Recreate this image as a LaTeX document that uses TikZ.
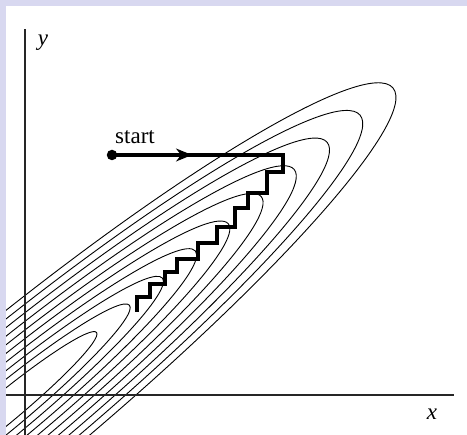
\documentclass[tikz,border=0pt]{standalone}
\usepackage{fontspec}
\setmainfont{Liberation Serif}
\usetikzlibrary{arrows.meta}
\definecolor{lav}{RGB}{216,216,240}
\tikzset{
  contour/.style={line width=0.9pt, black},
  axis/.style={line width=1.2pt, black!85},
  walk/.style={line width=3.2pt, black, line join=miter},
  lbl/.style={font=\fontsize{23}{27}\selectfont, inner sep=0pt},
}
\begin{document}
\begin{tikzpicture}[x=1pt,y=1pt]
\useasboundingbox (0,0) rectangle (467,435);
\fill[lav] (0,0) rectangle (467,435);
\fill[white] (6,0) rectangle (467,429);
\begin{scope}
\clip (6,0) rectangle (467,429);
\begin{scope}[shift={(0,23)}, rotate=39.5]
\foreach \a/\b in {125.1/15, 167.8/21.7, 210.5/28.4, 253.2/35.1, 295.9/41.8, 338.6/48.5, 381.3/55.2, 424/61.9, 466.7/68.6, 509.4/75.3}
  \draw[contour] (0,0) ellipse [x radius=\a, y radius=\b];
\end{scope}
\end{scope}
% axes
\coordinate (ytop) at (25,406);
\coordinate (ybot) at (25,0);
\coordinate (xl) at (6,40);
\coordinate (xr) at (454,40);
\draw[axis] (ybot) -- (ytop);
\draw[axis] (xl) -- (xr);
\node[lbl] (ylab) at (43,392) {\textit{y}};
\node[lbl] (xlab) at (432,21) {\textit{x}};
% walk
\node[circle, fill=black, inner sep=0pt, minimum size=10.5pt] (start) at (112,280) {};
\node[lbl] (startlab) at (135,298) {start};
\coordinate (arr) at (192,280);
\draw[walk] (start.center) -- (283,280) -- (283,263) -- (267,263) -- (267,242)
  -- (248,242) -- (248,227) -- (235,227) -- (235,208) -- (217,208) -- (217,192)
  -- (198,192) -- (198,176) -- (177,176) -- (177,163) -- (165,163) -- (165,151)
  -- (150,151) -- (150,138) -- (137,138) -- (137,123);
\draw[line width=1.2pt, -{Stealth[length=16pt,width=13pt,inset=5pt]}] (start.center) -- (arr);
\end{tikzpicture}
\end{document}
